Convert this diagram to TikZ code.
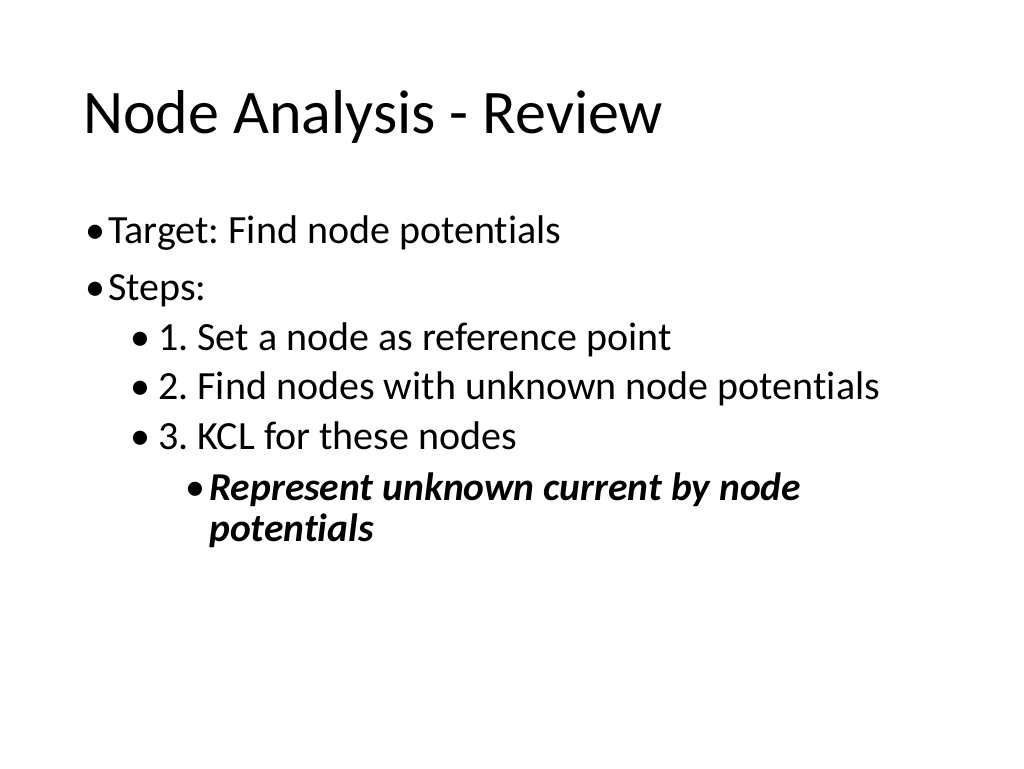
\documentclass[tikz,border=0pt]{standalone}
\usepackage{fontspec}
\setmainfont{Carlito}[Ligatures=NoCommon]
\tikzset{
  txt/.style={anchor=base west, inner sep=0pt},
  lvlone/.style={txt, font=\fontsize{40}{48}\selectfont},
  lvltwo/.style={txt, font=\fontsize{40}{48}\selectfont},
  lvlthree/.style={txt, font=\fontsize{39.5}{48}\selectfont\bfseries\itshape}
}
\begin{document}
\frenchspacing
\begin{tikzpicture}[x=1pt, y=-1pt]
  \useasboundingbox (0,0) rectangle (1024,768);
  % title
  \node[txt, font=\fontsize{62}{70}\selectfont] (title) at (83,133) {Node Analysis - Review};
  % first level
  \node[lvlone] (b1) at (85,243) {\textbullet};
  \node[lvlone] (target) at (108,243) {Target: Find node potentials};
  \node[lvlone] (b2) at (85,300) {\textbullet};
  \node[lvlone] (steps) at (108,300) {Steps:};
  % second level
  \foreach \y/\t [count=\i] in {350/{1. Set a node as reference point},
      399/{2. Find nodes with unknown node potentials},
      449/{3. KCL for these nodes}} {
    \node[lvltwo] (bs\i) at (130,\y) {\textbullet};
    \node[lvltwo] (step\i) at (158,\y) {\t};
  }
  % third level
  \node[lvltwo] (b3) at (185,500) {\textbullet};
  \node[lvlthree] (repr) at (209,500) {Represent unknown current by node};
  \node[lvlthree] (repr2) at (209,541) {potentials};
\end{tikzpicture}
\end{document}
